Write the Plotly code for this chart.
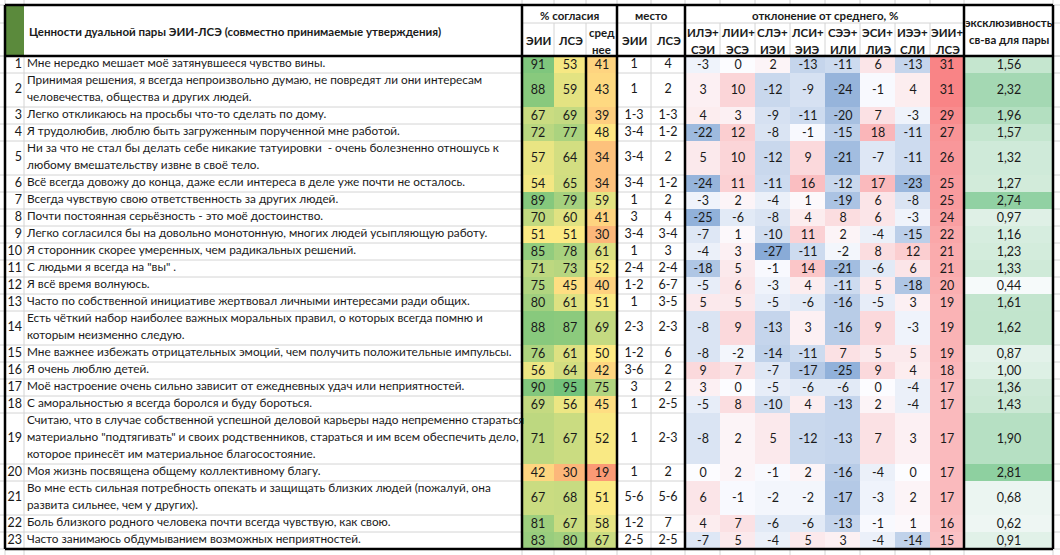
import numpy as np
import plotly.graph_objects as go

# --- данные таблицы ---
statements = [
    "Мне нередко мешает моё затянувшееся чувство вины.",
    "Принимая решения, я всегда непроизвольно думаю, не повредят ли они интересам<br>человечества, общества и других людей.",
    "Легко откликаюсь на просьбы что-то сделать по дому.",
    "Я трудолюбив, люблю быть загруженным порученной мне работой.",
    "Ни за что не стал бы делать себе никакие татуировки  - очень болезненно отношусь к<br>любому вмешательству извне в своё тело.",
    "Всё всегда довожу до конца, даже если интереса в деле уже почти не осталось.",
    "Всегда чувствую свою ответственность за других людей.",
    "Почти постоянная серьёзность - это моё достоинство.",
    "Легко согласился бы на довольно монотонную, многих людей усыпляющую работу.",
    "Я сторонник скорее умеренных, чем радикальных решений.",
    "С людьми я всегда на \"вы\" .",
    "Я всё время волнуюсь.",
    "Часто по собственной инициативе жертвовал личными интересами ради общих.",
    "Есть чёткий набор наиболее важных моральных правил, о которых всегда помню и<br>которым неизменно следую.",
    "Мне важнее избежать отрицательных эмоций, чем получить положительные импульсы.",
    "Я очень люблю детей.",
    "Моё настроение очень сильно зависит от ежедневных удач или неприятностей.",
    "С аморальностью я всегда боролся и буду бороться.",
    "Считаю, что в случае собственной успешной деловой карьеры надо непременно стараться<br>материально \"подтягивать\" и своих родственников, стараться и им всем обеспечить дело,<br>которое принесёт им материальное благосостояние.",
    "Моя жизнь посвящена общему коллективному благу.",
    "Во мне есть сильная потребность опекать и защищать близких людей (пожалуй, она<br>развита сильнее, чем у других).",
    "Боль близкого родного человека почти всегда чувствую, как свою.",
    "Часто занимаюсь обдумыванием возможных неприятностей.",
]

pct_eii = [91, 88, 67, 72, 57, 54, 89, 70, 51, 85, 71, 75, 80, 88, 76, 56, 90, 69, 71, 42, 67, 81, 83]
pct_lse = [53, 59, 69, 77, 64, 65, 79, 60, 51, 78, 73, 45, 61, 87, 61, 64, 95, 56, 67, 30, 68, 67, 80]
pct_avg = [41, 43, 39, 48, 34, 34, 59, 41, 30, 61, 52, 40, 51, 69, 50, 42, 75, 45, 52, 19, 51, 58, 67]

place_eii = ["1", "1", "1-3", "3-4", "3-4", "3-4", "1", "3", "3-4", "1", "2-4", "1-2",
             "1", "2-3", "1-2", "3-6", "3", "1", "1", "1", "5-6", "1-2", "2-5"]
place_lse = ["4", "2", "1-3", "1-2", "2", "1-2", "2", "4", "3-4", "3", "2-4", "6-7",
             "3-5", "2-3", "6", "2", "2", "2-5", "2-3", "2", "5-6", "7", "2-5"]

pct_labels = ["ЭИИ", "ЛСЭ", "сред<br>нее"]
place_labels = ["ЭИИ", "ЛСЭ"]
dev_labels = ["ИЛЭ+<br>СЭИ", "ЛИИ+<br>ЭСЭ", "СЛЭ+<br>ИЭИ", "ЛСИ+<br>ЭИЭ",
              "СЭЭ+<br>ИЛИ", "ЭСИ+<br>ЛИЭ", "ИЭЭ+<br>СЛИ", "ЭИИ+<br>ЛСЭ"]
dev_ile_sei = [-3, 3, 4, -22, 5, -24, -3, -25, -7, -4, -18, -5, 5, -8, -8, 9, 3, -5, -8, 0, 6, 4, -7]
dev_lii_ese = [0, 10, 3, 12, 10, 11, 2, -6, 1, 3, 5, 6, 5, 9, -2, 7, 0, 8, 2, 2, -1, 7, 5]
dev_sle_iei = [2, -12, -9, -8, -12, -11, -4, -8, -10, -27, -1, -3, -5, -13, -14, -7, -5, -10, 5, -1, -2, -6, -4]
dev_lsi_eie = [-13, -9, -11, -1, 9, 16, 1, 4, 11, -11, 14, 4, -6, 3, -11, -17, -6, 4, -12, 2, -2, -6, 5]
dev_see_ili = [-11, -24, -20, -15, -21, -12, -19, 8, 2, -2, -21, -11, -16, -16, 7, -25, -6, -13, -13, -16, -17, -13, 3]
dev_esi_lie = [6, -1, 7, 18, -7, 17, 6, 6, -4, 8, -6, 5, -5, 9, 5, 9, 0, 2, 7, -4, -3, -1, -4]
dev_iee_sli = [-13, 4, -3, -11, -11, -23, -8, -3, -15, 12, 6, -18, 3, -3, 5, 4, -4, -4, 3, 0, 2, 1, -14]
dev_eii_lse = [31, 31, 29, 27, 26, 25, 25, 24, 22, 21, 21, 20, 19, 19, 19, 18, 17, 17, 17, 17, 17, 16, 15]

exclusivity = [1.56, 2.32, 1.96, 1.57, 1.32, 1.27, 2.74, 0.97, 1.16, 1.23, 1.33, 0.44,
               1.61, 1.62, 0.87, 1.00, 1.36, 1.43, 1.90, 2.81, 0.68, 0.62, 0.91]

# --- разметка листа (пиксели) ---
W, H = 1060, 555
FONT = "Lato"
TXT = "#1a1a1a"
GRID = "#d4d4d4"
X_NUM = [5, 24]
X_TEXT = [24, 522]
X_PCT = [522, 554, 586, 617]
X_PLACE = [617, 651, 685]
X_DEV = [685, 720, 755, 790, 825, 860, 895, 930, 964]
X_EXCL = [964, 1053]
Y_TOP, Y_MID, Y_HEAD = 5, 23, 56
LINE_H = 17
NUM_SIZE = 12.5
TEXT_SIZE = 11.8
HEAD_SIZE = 11.5

n_lines = [s.count("<br>") + 1 for s in statements]
y_edges = Y_HEAD + LINE_H * np.concatenate([[0], np.cumsum(n_lines)])
y_mid = (y_edges[:-1] + y_edges[1:]) / 2
Y_BOT = y_edges[-1]
n = len(statements)

fig = go.Figure()


def cell_text(rows, fmt):
    return [[fmt(v) for v in r] for r in rows]


# % согласия
z_pct = np.array([pct_eii, pct_lse, pct_avg]).T
fig.add_trace(go.Heatmap(
    z=z_pct, x=X_PCT, y=y_edges, zmin=0, zmax=100, showscale=False,
    colorscale=[[0, "#F8696B"], [0.5, "#FFEB84"], [1, "#63BE7B"]],
    text=cell_text(z_pct, str), texttemplate="%{text}",
    textfont=dict(family=FONT, size=NUM_SIZE, color=TXT), hoverinfo="skip"))

# отклонение от среднего
z_dev = np.array([dev_ile_sei, dev_lii_ese, dev_sle_iei, dev_lsi_eie,
                  dev_see_ili, dev_esi_lie, dev_iee_sli, dev_eii_lse]).T
fig.add_trace(go.Heatmap(
    z=z_dev, x=X_DEV, y=y_edges, zmin=-38, zmax=38, showscale=False,
    colorscale=[[0, "#5A8AC6"], [0.5, "#FCFCFF"], [1, "#F8696B"]],
    text=cell_text(z_dev, str), texttemplate="%{text}",
    textfont=dict(family=FONT, size=NUM_SIZE, color=TXT), hoverinfo="skip"))

# эксклюзивность
z_excl = np.array(exclusivity).reshape(-1, 1)
fig.add_trace(go.Heatmap(
    z=z_excl, x=X_EXCL, y=y_edges, zmin=0.3, zmax=3.8,
    showscale=False, colorscale=[[0, "#FCFCFF"], [1, "#63BE7B"]],
    text=cell_text(z_excl, lambda v: f"{v:.2f}".replace(".", ",")), texttemplate="%{text}",
    textfont=dict(family=FONT, size=NUM_SIZE, color=TXT), hoverinfo="skip"))

# номера строк
fig.add_trace(go.Scatter(
    x=[X_NUM[1] - 2] * n, y=y_mid, text=[str(i + 1) for i in range(n)], mode="text",
    textposition="middle left", textfont=dict(family=FONT, size=NUM_SIZE, color=TXT), hoverinfo="skip"))

# утверждения: каждая строка переноса на своей высоте
lx, ly, lt = [], [], []
for i, s in enumerate(statements):
    for k, part in enumerate(s.split("<br>")):
        lx.append(X_TEXT[0] + 3)
        ly.append(y_edges[i] + LINE_H * (k + 0.5))
        lt.append(part)
fig.add_trace(go.Scatter(
    x=lx, y=ly, text=lt, mode="text", textposition="middle right",
    textfont=dict(family=FONT, size=TEXT_SIZE, color=TXT), hoverinfo="skip"))

# места
for j, col in enumerate([place_eii, place_lse]):
    fig.add_trace(go.Scatter(
        x=[(X_PLACE[j] + X_PLACE[j + 1]) / 2] * n, y=y_mid, text=col, mode="text",
        textposition="middle center", textfont=dict(family=FONT, size=NUM_SIZE, color=TXT),
        hoverinfo="skip"))

shapes = []


def line(x0, y0, x1, y1, color=GRID, width=1):
    shapes.append(dict(type="line", x0=x0, y0=y0, x1=x1, y1=y1, xref="x", yref="y",
                       line=dict(color=color, width=width), layer="above"))


# фон листа за пределами таблицы
all_cols = [X_NUM[0], X_NUM[1]] + X_PCT + X_PLACE[1:] + X_DEV[1:] + X_EXCL[1:]
for xc in all_cols:
    line(xc, 0, xc, Y_TOP)
    line(xc, Y_BOT, xc, H)
for yr in [Y_TOP, Y_MID, Y_HEAD] + list(y_edges):
    line(0, yr, X_NUM[0], yr)
    line(X_EXCL[1], yr, W, yr)

# зелёная ячейка
shapes.append(dict(type="rect", x0=X_NUM[0], x1=X_NUM[1], y0=Y_TOP, y1=Y_HEAD,
                   fillcolor="#5B8A3C", line=dict(width=0), layer="below"))

# тонкая сетка в белых ячейках
for yr in y_edges[1:-1]:
    line(X_NUM[0], yr, X_TEXT[1], yr)
    line(X_PLACE[0], yr, X_PLACE[2], yr)
line(X_NUM[1], Y_HEAD, X_NUM[1], Y_BOT)
line(X_PLACE[1], Y_MID, X_PLACE[1], Y_BOT)
line(X_PCT[0], Y_MID, X_DEV[-1], Y_MID)
for xc in X_PCT[1:3] + X_DEV[1:-1]:
    line(xc, Y_MID, xc, Y_HEAD)

# толстые границы
K = "#000000"
line(X_NUM[0], Y_TOP, X_EXCL[1], Y_TOP, K, 2.5)
line(X_NUM[0], Y_HEAD, X_EXCL[1], Y_HEAD, K, 2.5)
line(X_NUM[0], Y_BOT, X_EXCL[1], Y_BOT, K, 2.5)
for xc in [X_NUM[0], X_TEXT[1], X_PCT[3], X_PLACE[2], X_DEV[-1], X_EXCL[1]]:
    line(xc, Y_TOP, xc, Y_BOT, K, 2.5)
line(X_PCT[2], Y_HEAD, X_PCT[2], Y_BOT, K, 2.5)

# заголовки
ann = []


def label(x, y_center, text, anchor="center"):
    parts = text.split("<br>")
    for k, part in enumerate(parts):
        yy = y_center + LINE_H * (k - (len(parts) - 1) / 2)
        ann.append(dict(x=x, y=yy, xref="x", yref="y", text=f"<b>{part}</b>", showarrow=False,
                        xanchor=anchor, yanchor="middle",
                        font=dict(family=FONT, size=HEAD_SIZE, color=TXT)))


head_mid = (Y_TOP + Y_HEAD) / 2 + 1
top_mid = (Y_TOP + Y_MID) / 2 + 1
sub_mid = (Y_MID + Y_HEAD) / 2 + 1
label(X_TEXT[0] + 3, head_mid,
      "Ценности дуальной пары ЭИИ-ЛСЭ (совместно принимаемые утверждения)", anchor="left")
label((X_PCT[0] + X_PCT[3]) / 2, top_mid, "% согласия")
label((X_PLACE[0] + X_PLACE[2]) / 2, top_mid, "место")
label((X_DEV[0] + X_DEV[-1]) / 2, top_mid, "отклонение от среднего, %")
label((X_EXCL[0] + X_EXCL[1]) / 2, head_mid - 1, "эксклюзивность<br>св-ва для пары")
for j, t in enumerate(pct_labels):
    label((X_PCT[j] + X_PCT[j + 1]) / 2, sub_mid, t)
for j, t in enumerate(place_labels):
    label((X_PLACE[j] + X_PLACE[j + 1]) / 2, sub_mid, t)
for j, t in enumerate(dev_labels):
    label((X_DEV[j] + X_DEV[j + 1]) / 2, sub_mid, t)

fig.update_layout(
    width=W, height=H, margin=dict(l=0, r=0, t=0, b=0),
    paper_bgcolor="white", plot_bgcolor="white", showlegend=False,
    xaxis=dict(range=[0, W], visible=False, fixedrange=True),
    yaxis=dict(range=[H, 0], visible=False, fixedrange=True),
    shapes=shapes, annotations=ann,
)

fig.write_html("out.html", config={"displayModeBar": False},
               post_script="document.body.style.margin='0';")
